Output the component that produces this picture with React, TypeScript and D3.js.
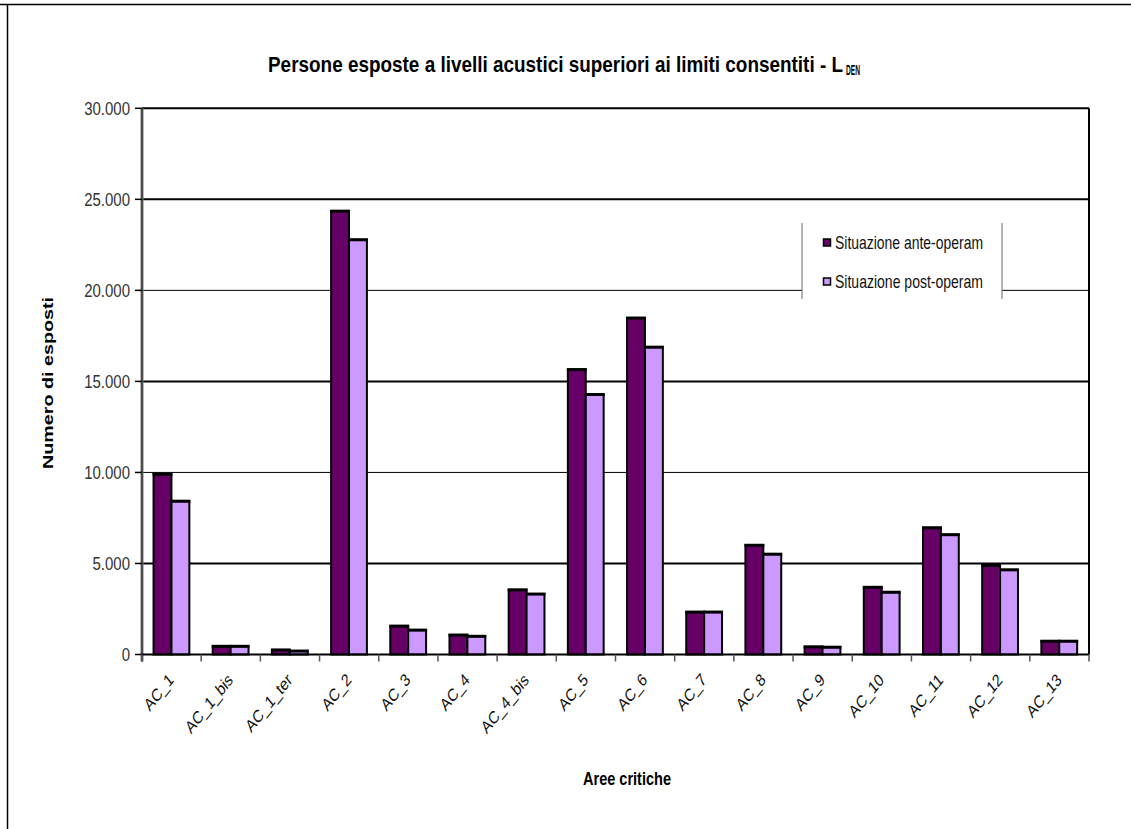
import React from "react";
import { scaleBand, scaleLinear, formatLocale } from "d3";

const categories = [
  "AC_1", "AC_1_bis", "AC_1_ter", "AC_2", "AC_3", "AC_4", "AC_4_bis", "AC_5",
  "AC_6", "AC_7", "AC_8", "AC_9", "AC_10", "AC_11", "AC_12", "AC_13",
];
const series = ["Situazione ante-operam", "Situazione post-operam"];
const anteOperam = [9900, 450, 250, 24350, 1560, 1070, 3550, 15650, 18480, 2330, 6000, 420, 3690, 6960, 4890, 730];
const postOperam = [8420, 450, 190, 22780, 1340, 1000, 3320, 14280, 16880, 2330, 5510, 400, 3420, 6580, 4650, 730];
const yTicks = [0, 5000, 10000, 15000, 20000, 25000, 30000];
const colors = ["#660066", "#cc99ff"];

const width = 1131;
const height = 829;
const plot = { left: 142, right: 1089, top: 108.3, bottom: 654.5 };
const font = "'Liberation Sans', Arial, sans-serif";
// the source picture is stretched vertically, text looks tall and narrow
const stretch = 1.25;

const it = formatLocale({ decimal: ",", thousands: ".", grouping: [3], currency: ["€", ""] });
const fmt = it.format(",");

export default function App() {
  const x = scaleBand().domain(categories).range([plot.left, plot.right]);
  const bw = x.bandwidth();
  const x1 = scaleBand().domain(series).range([bw * 0.195, bw * 0.8]);
  const y = scaleLinear().domain([0, 30000]).range([plot.bottom, plot.top]);
  const values = [anteOperam, postOperam];

  return (
    <>
      <style>{`body{margin:0;overflow:hidden}`}</style>
      <svg width={width} height={height} style={{ display: "block", background: "#fff" }} fontFamily={font}>
        {/* outer frame */}
        <line x1={0} x2={width} y1={4.5} y2={4.5} stroke="#000" strokeWidth={1.5} />
        <line x1={7.5} x2={7.5} y1={4.5} y2={height} stroke="#000" strokeWidth={1.5} />

        {/* title */}
        <g transform={`translate(268, 72) scale(1, ${stretch})`}>
          <text fontSize={17.5} fontWeight="bold" textLength={575} lengthAdjust="spacingAndGlyphs">
            Persone esposte a livelli acustici superiori ai limiti consentiti - L
          </text>
        </g>
        <g transform={`translate(846, 75) scale(1, ${stretch})`}>
          <text fontSize={11} fontWeight="bold" textLength={14} lengthAdjust="spacingAndGlyphs">
            DEN
          </text>
        </g>

        {/* gridlines */}
        {yTicks.filter((t) => t > 0).map((t) => (
          <line
            key={t}
            x1={plot.left}
            x2={plot.right}
            y1={y(t)}
            y2={y(t)}
            stroke="#000"
            strokeWidth={t === 20000 || t === 10000 ? 1 : 2}
          />
        ))}
        <line x1={plot.right} x2={plot.right} y1={plot.top} y2={plot.bottom} stroke="#000" strokeWidth={2} />

        {/* y axis */}
        <line x1={plot.left} x2={plot.left} y1={plot.top} y2={plot.bottom + 7} stroke="#777" strokeWidth={3} />
        <line x1={plot.left} x2={plot.left} y1={plot.top} y2={plot.bottom + 7} stroke="#222" strokeWidth={1} />
        {yTicks.map((t) => (
          <g key={t} transform={`translate(0, ${y(t)})`}>
            <line x1={135} x2={plot.left} stroke="#000" strokeWidth={1.5} />
            <g transform={`translate(130, 0) scale(1, ${stretch})`}>
              <text dy="0.36em" textAnchor="end" fontSize={15} fill="#333">
                {fmt(t)}
              </text>
            </g>
          </g>
        ))}
        <text
          transform={`translate(53, 383) rotate(-90)`}
          textAnchor="middle"
          fontSize={15}
          fontWeight="bold"
          textLength={172}
          lengthAdjust="spacingAndGlyphs"
        >
          Numero di esposti
        </text>

        {/* bars */}
        {categories.map((c, i) => (
          <g key={c} transform={`translate(${x(c)}, 0)`}>
            {series.map((s, j) => {
              const v = values[j][i];
              const bx = x1(s) as number;
              const w = x1.bandwidth();
              return (
                <g key={s}>
                  <rect
                    x={bx}
                    y={y(v)}
                    width={w}
                    height={plot.bottom - y(v)}
                    fill={colors[j]}
                    stroke="#000"
                    strokeWidth={2}
                  />
                  <line x1={bx - 1} x2={bx + w + 1} y1={y(v)} y2={y(v)} stroke="#000" strokeWidth={3} />
                </g>
              );
            })}
          </g>
        ))}

        {/* x axis */}
        <line x1={plot.left} x2={plot.right} y1={plot.bottom} y2={plot.bottom} stroke="#000" strokeWidth={2} />
        {categories.concat(["end"]).map((c, i) => {
          const px = plot.left + i * bw;
          return <line key={c} x1={px} x2={px} y1={plot.bottom} y2={plot.bottom + 7} stroke="#555" strokeWidth={1.5} />;
        })}
        {categories.map((c) => (
          <g key={c} transform={`translate(${(x(c) as number) + bw / 2 + 3}, 681) scale(1, ${stretch})`}>
            <text transform="rotate(-45)" textAnchor="end" fontSize={14} fill="#111">
              {c}
            </text>
          </g>
        ))}
        <g transform={`translate(627, 785) scale(1, ${stretch})`}>
          <text textAnchor="middle" fontSize={14.5} fontWeight="bold" textLength={88} lengthAdjust="spacingAndGlyphs">
            Aree critiche
          </text>
        </g>

        {/* legend */}
        <rect x={802} y={223} width={200} height={76} fill="#fff" />
        <line x1={802} x2={802} y1={223} y2={299} stroke="#666" strokeWidth={1} />
        <line x1={1002} x2={1002} y1={223} y2={299} stroke="#666" strokeWidth={1} />
        {series.map((s, j) => {
          const cy = j === 0 ? 242.5 : 281.5;
          return (
            <g key={s}>
              <rect x={823.5} y={cy - 3.5} width={7} height={7} fill={colors[j]} stroke="#000" strokeWidth={1.5} />
              <g transform={`translate(835, ${cy}) scale(1, ${stretch})`}>
                <text dy="0.36em" fontSize={14} fill="#111" textLength={148} lengthAdjust="spacingAndGlyphs">
                  {s}
                </text>
              </g>
            </g>
          );
        })}
      </svg>
    </>
  );
}
